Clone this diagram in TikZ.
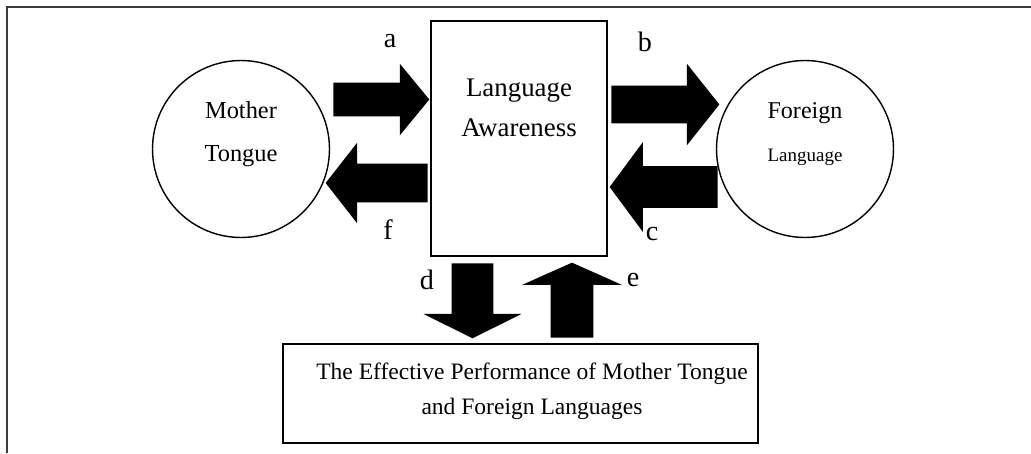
\documentclass[tikz,border=0pt]{standalone}
\usepackage{fontspec}
\setmainfont{Liberation Serif}
\usetikzlibrary{shapes.arrows}
\definecolor{framegray}{RGB}{60, 60, 60}

\begin{document}
\begin{tikzpicture}[x=0.02cm, y=-0.02cm,
    box/.style={draw, line width=0.8pt, inner sep=0pt},
    blockarrow/.style={single arrow, fill=black, inner sep=0pt, single arrow head indent=0pt},
    letter/.style={font=\fontsize{16}{18}\selectfont}]
    \useasboundingbox (0,0) rectangle (1031,453);

    % Frame: top and left side only
    \draw[framegray, line width=0.6pt] (7,453) -- (7,7) -- (1031,7);

    % Mother Tongue
    \node[box, circle, minimum size=3.54cm] (mother) at (241,149) {};
    \node[align=center, font=\fontsize{13.9}{24.5}\selectfont] (mothertxt) at (241,134) {Mother\\Tongue};

    % Foreign Language
    \node[box, circle, minimum size=3.54cm] (foreign) at (805,149) {};
    \node[align=center, font=\fontsize{13.7}{24.5}\selectfont] (foreigntxt) at (805,134) {Foreign\\{\fontsize{10.8}{24.5}\selectfont Language}};

    % Language Awareness
    \node[box, minimum width=3.52cm, minimum height=4.7cm] (aware) at (519,138.5) {};
    \node[align=center, font=\fontsize{15.3}{22.7}\selectfont] (awaretxt) at (519,108) {Language\\Awareness};

    % Effective performance
    \node[box, minimum width=9.5cm, minimum height=1.98cm] (perf) at (520.5,393.5) {};
    \node[align=center, font=\fontsize{13.4}{20}\selectfont] (perftxt) at (532,391)
        {The Effective Performance of Mother Tongue\\and Foreign Languages};

    % Block arrows (shaft = 2 x inner sep across the arrow)
    \node[blockarrow, minimum height=1.92cm, inner ysep=0.33cm, single arrow head extend=0.38cm,
        single arrow tip angle=101, anchor=tail] (arra) at (333,99.5) {};
    \node[blockarrow, minimum height=2.16cm, inner ysep=0.37cm, single arrow head extend=0.44cm,
        single arrow tip angle=103, anchor=tail] (arrb) at (611,104.5) {};
    \node[blockarrow, minimum height=2.16cm, inner ysep=0.41cm, single arrow head extend=0.48cm,
        single arrow tip angle=107, shape border rotate=180, anchor=tail] (arrc) at (718,187) {};
    \node[blockarrow, minimum height=2.04cm, inner ysep=0.38cm, single arrow head extend=0.42cm,
        single arrow tip angle=104, shape border rotate=180, anchor=tail] (arrf) at (428,183) {};
    \node[blockarrow, minimum height=1.5cm, inner xsep=0.41cm, single arrow head extend=0.56cm,
        single arrow tip angle=127, shape border rotate=270, anchor=tail] (arrd) at (472.5,263) {};
    \node[blockarrow, minimum height=1.5cm, inner xsep=0.42cm, single arrow head extend=0.57cm,
        single arrow tip angle=132, shape border rotate=90, anchor=tail] (arre) at (572,338) {};

    % Labels
    \node[letter] (la) at (390,41) {a};
    \node[letter] (lb) at (645,42) {b};
    \node[letter] (lc) at (652,234) {c};
    \node[letter] (ld) at (427,280) {d};
    \node[letter] (le) at (633,280) {e};
    \node[letter] (lf) at (388,230) {f};
\end{tikzpicture}
\end{document}
